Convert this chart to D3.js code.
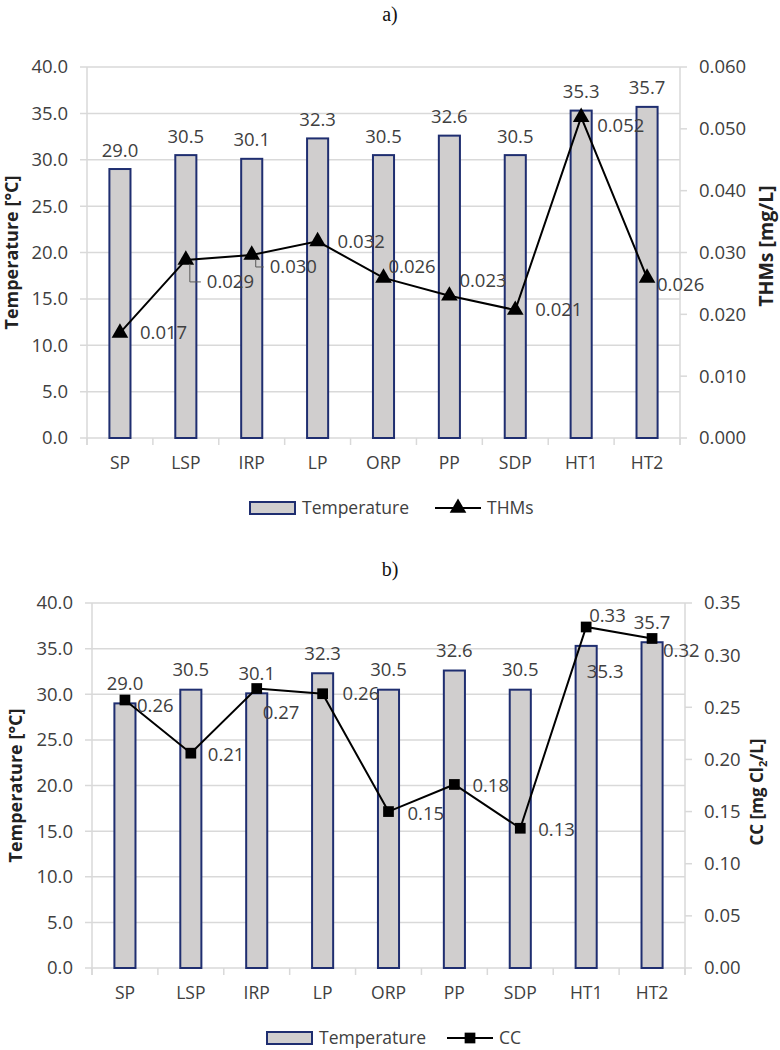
<!DOCTYPE html>
<html><head><meta charset="utf-8">
<script src="https://cdn.jsdelivr.net/npm/d3@7"></script>
<style>
body{margin:0;background:#fff;}
text{font-family:"Open Sans",sans-serif;}
</style></head>
<body><svg id="c" width="780" height="1050"></svg>
<script>
// ---- data ----
const categories = ["SP","LSP","IRP","LP","ORP","PP","SDP","HT1","HT2"];
const temperature = [29.0,30.5,30.1,32.3,30.5,32.6,30.5,35.3,35.7];
const thms = [0.017,0.0288,0.0296,0.0318,0.0259,0.0230,0.0207,0.0519,0.0259];
const cc = [0.257,0.206,0.268,0.263,0.150,0.176,0.134,0.327,0.316];
const tempTicks = [0,5,10,15,20,25,30,35,40];
const thmsTicks = [0,0.01,0.02,0.03,0.04,0.05,0.06];
const ccTicks = [0,0.05,0.10,0.15,0.20,0.25,0.30,0.35];

// ---- styles / placement ----
const BAR_FILL="#D0CECE", BAR_STROKE="#1F2E70", GRID="#D9D9D9", TXT="#404040";
const NUM="18.5px", WORD="17.5px";
const svg = d3.select("#c");

function chart(o){
  const g = svg.append("g");
  const x = d3.scaleBand().domain(categories).range([o.x0,o.x1]).paddingInner(0.68).paddingOuter(0.34);
  const step = x.step();
  const yL = d3.scaleLinear().domain([0,40]).range([o.yB,o.yT]);
  const yR = d3.scaleLinear().domain([0,o.rMax]).range([o.yB,o.yT]);
  const cx = c => x(c)+x.bandwidth()/2;

  g.append("text").attr("x",390).attr("y",o.titleY).attr("text-anchor","middle")
    .style("font-family","'Liberation Serif','DejaVu Serif',serif").style("font-size","20px").attr("fill","#111").text(o.title);

  g.selectAll(".gl").data(tempTicks).join("line")
    .attr("x1",o.x0-7).attr("x2",o.x1).attr("y1",d=>yL(d)).attr("y2",d=>yL(d))
    .attr("stroke",GRID).attr("stroke-width",1.5);
  g.append("line").attr("x1",o.x0).attr("x2",o.x0).attr("y1",o.yT).attr("y2",o.yB+7).attr("stroke",GRID).attr("stroke-width",1.5);
  g.append("line").attr("x1",o.x1).attr("x2",o.x1).attr("y1",o.yT).attr("y2",o.yB+7).attr("stroke",GRID).attr("stroke-width",1.5);
  g.selectAll(".rt").data(o.rTicks).join("line")
    .attr("x1",o.x1).attr("x2",o.x1+7).attr("y1",d=>yR(d)).attr("y2",d=>yR(d)).attr("stroke",GRID).attr("stroke-width",1.5);
  g.selectAll(".xt").data(d3.range(categories.length+1)).join("line")
    .attr("x1",i=>o.x0+i*step).attr("x2",i=>o.x0+i*step).attr("y1",o.yB).attr("y2",o.yB+7)
    .attr("stroke",GRID).attr("stroke-width",1.5);

  g.selectAll(".ltl").data(tempTicks).join("text")
    .attr("x",o.x0-19).attr("y",d=>yL(d)).attr("dy","0.35em").attr("text-anchor","end")
    .style("font-size",NUM).attr("fill",TXT).text(d=>d.toFixed(1));
  g.selectAll(".rtl").data(o.rTicks).join("text")
    .attr("x",o.x1+19).attr("y",d=>yR(d)).attr("dy","0.35em").attr("text-anchor","start")
    .style("font-size",NUM).attr("fill",TXT).text(d=>d.toFixed(o.rDec));
  g.selectAll(".xtl").data(categories).join("text")
    .attr("x",d=>cx(d)).attr("y",o.yB+25).attr("dy","0.35em").attr("text-anchor","middle")
    .style("font-size",WORD).attr("fill",TXT).text(d=>d);

  g.append("text").attr("transform",`translate(${o.lTitleX},${(o.yT+o.yB)/2}) rotate(-90)`)
    .attr("text-anchor","middle").attr("dy","0.35em").style("font-size",o.lTitleSize).style("font-weight","bold")
    .attr("fill","#222").text("Temperature [°C]");
  const rt = g.append("text").attr("transform",`translate(${o.rTitleX},${o.rTitleY}) rotate(-90)`)
    .attr("text-anchor","middle").attr("dy","0.35em").style("font-size",o.rTitleSize).style("font-weight","bold").attr("fill","#222");
  o.rTitle(rt);

  g.selectAll(".bar").data(temperature).join("rect")
    .attr("x",(d,i)=>x(categories[i])).attr("width",x.bandwidth())
    .attr("y",d=>yL(d)).attr("height",d=>o.yB-yL(d))
    .attr("fill",BAR_FILL).attr("stroke",BAR_STROKE).attr("stroke-width",2);

  const pts = o.series.map((v,i)=>[cx(categories[i]),yR(v)]);
  g.append("path").attr("d",d3.line()(pts)).attr("fill","none").attr("stroke","#000").attr("stroke-width",2);
  const sym = d3.symbol().type(o.symbol).size(o.symSize);
  g.selectAll(".mk").data(pts).join("path")
    .attr("transform",d=>`translate(${d[0]},${d[1]})`).attr("d",sym).attr("fill","#000");

  g.selectAll(".bl").data(temperature).join("text")
    .attr("x",(d,i)=>cx(categories[i])+o.barLab[i][0]).attr("y",(d,i)=>yL(d)+o.barLab[i][1]).attr("dy","0.35em")
    .attr("text-anchor","middle").style("font-size",NUM).attr("fill",TXT).text(d=>d.toFixed(1));

  g.selectAll(".sl").data(o.series).join("text")
    .attr("x",(d,i)=>pts[i][0]+o.serLab[i][0]).attr("y",(d,i)=>pts[i][1]+o.serLab[i][1]).attr("dy","0.35em")
    .attr("text-anchor","start").style("font-size",NUM).attr("fill",TXT).text(d=>d.toFixed(o.rDec===3?3:2));
  (o.leaders||[]).forEach(i=>{
    const p=pts[i], l=o.serLab[i];
    g.append("path").attr("d",`M${p[0]+4},${p[1]+4}L${p[0]+4},${p[1]+l[1]}L${p[0]+l[0]-6},${p[1]+l[1]}`)
      .attr("fill","none").attr("stroke","#595959").attr("stroke-width",1);
  });

  const L=o.legend;
  g.append("rect").attr("x",L.x).attr("y",L.y-6).attr("width",45).attr("height",12)
    .attr("fill",BAR_FILL).attr("stroke",BAR_STROKE).attr("stroke-width",2);
  g.append("text").attr("x",L.x+52).attr("y",L.y).attr("dy","0.35em").style("font-size",WORD).attr("fill",TXT).text("Temperature");
  g.append("line").attr("x1",L.lx).attr("x2",L.lx+46).attr("y1",L.y).attr("y2",L.y).attr("stroke","#000").attr("stroke-width",2);
  g.append("path").attr("transform",`translate(${L.lx+23},${L.y})`).attr("d",sym).attr("fill","#000");
  g.append("text").attr("x",L.lx+52).attr("y",L.y).attr("dy","0.35em").style("font-size",WORD).attr("fill",TXT).text(o.seriesName);
}

chart({
  title:"a)", titleY:21, x0:87, x1:680, yT:67, yB:438, rMax:0.06, rTicks:thmsTicks, rDec:3,
  series:thms, seriesName:"THMs", symbol:d3.symbolTriangle, symSize:120,
  lTitleX:12, lTitleSize:"18px", rTitleX:766, rTitleY:246, rTitleSize:"19.5px",
  rTitle:t=>t.text("THMs [mg/L]"),
  barLab:temperature.map((d,i)=>[0,-19]),
  serLab:[[20,0],[21,22],[18,12],[20,0],[5,-11],[10,-15],[20,0],[16,8],[10,7]],
  leaders:[1,2],
  legend:{x:250,y:508,lx:435}
});

chart({
  title:"b)", titleY:576, x0:92, x1:685, yT:603, yB:968, rMax:0.35, rTicks:ccTicks, rDec:2,
  series:cc, seriesName:"CC", symbol:d3.symbolSquare, symSize:115,
  lTitleX:16, lTitleSize:"18px", rTitleX:757, rTitleY:792, rTitleSize:"17px",
  rTitle:t=>{t.append("tspan").text("CC [mg  Cl");t.append("tspan").attr("dy","4").style("font-size","11px").text("2");t.append("tspan").attr("dy","-4").text("/L]");},
  barLab:temperature.map((d,i)=>i===7?[19,26]:[0,-20]),
  serLab:[[12,6],[17,1],[6,24],[20,0],[19,2],[18,1],[18,1],[3,-11],[11,12]],
  legend:{x:267,y:1038,lx:447}
});
</script></body></html>
